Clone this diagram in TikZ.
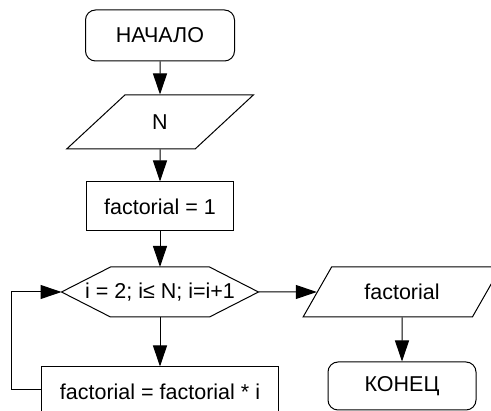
\documentclass[tikz,border=0pt]{standalone}
\usepackage{fontspec}
\setmainfont{Liberation Sans}
\usetikzlibrary{shapes.geometric,arrows.meta,calc}
\begin{document}
\begin{tikzpicture}[x=1pt,y=-1pt,
  font=\fontsize{21.5}{25}\selectfont,
  line width=1pt,
  term/.style={draw, rounded corners=10pt, inner sep=0pt},
  proc/.style={draw, inner sep=0pt},
  io/.style={draw, trapezium, trapezium stretches=true, inner sep=0pt},
  flow/.style={-{Triangle[length=21pt,width=14pt]}},
]
\useasboundingbox (0,0) rectangle (491,411);
\clip (0,0) rectangle (491,411);

\node[term, minimum width=149pt, minimum height=51pt] (start) at (160,35.5) {НАЧАЛО};
\node[io, trapezium left angle=49, trapezium right angle=131,
      minimum width=187pt, minimum height=54pt] (inN) at (160,122) {N};
\node[proc, minimum width=147pt, minimum height=49pt] (init) at (160,206.5) {factorial = 1};
\node[inner sep=0pt] (hex) at (160,292) {i = 2; i≤ N; i=i+1};
\coordinate (hexT) at ($(hex.center)+(0,-25)$);
\coordinate (hexB) at ($(hex.center)+(0,25)$);
\coordinate (hexR) at ($(hex.center)+(98.5,0)$);
\coordinate (hexL) at ($(hex.center)+(-98.5,0)$);
\draw ($(hex.center)+(-49.5,-25)$) -- ($(hex.center)+(49.5,-25)$) -- (hexR)
      -- ($(hex.center)+(49.5,25)$) -- ($(hex.center)+(-49.5,25)$) -- (hexL) -- cycle;
\node[proc, minimum width=237pt, minimum height=50pt] (body) at (160,392) {factorial = factorial * i};
\node[io, trapezium left angle=46, trapezium right angle=134,
      minimum width=198pt, minimum height=50pt] (out) at (402,292) {factorial};
\node[term, minimum width=148pt, minimum height=48pt] (end) at (402,386) {КОНЕЦ};

\coordinate (loopstart) at ($(body.north west)+(0,23)$);

\draw[flow] (start) -- (inN);
\draw[flow] (inN) -- (init);
\draw[flow] (init) -- (hexT);
\draw[flow] (hexB) -- (body);
\draw[flow] (hexR) -- (out.west);
\draw[flow] (out) -- (end);
\draw[flow] (loopstart) -- ++(-30,0) |- (hexL);
\end{tikzpicture}
\end{document}
